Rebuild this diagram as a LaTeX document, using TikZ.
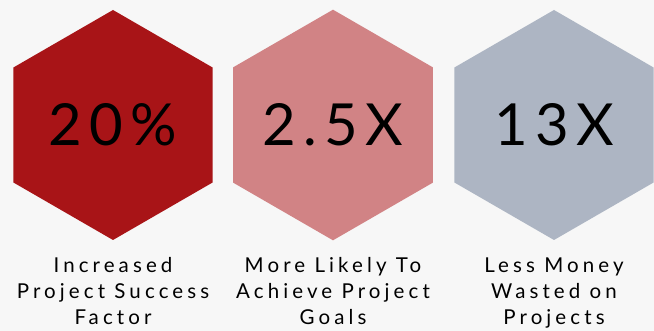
\documentclass[tikz,border=0pt]{standalone}
\usepackage{fontspec}
\setmainfont{Lato}[LetterSpace=20]
\newfontfamily\bigfont{Lato}[LetterSpace=13]
\usepackage{tikz}
\usetikzlibrary{positioning,shapes.geometric}
\definecolor{hexred}{HTML}{A81417}
\definecolor{hexpink}{HTML}{D18385}
\definecolor{hexgrey}{HTML}{ADB5C3}
\definecolor{pagebg}{HTML}{F7F7F7}
\newcommand{\hexnum}[1]{\raisebox{-5pt}{#1}}
\tikzset{hex node/.style={regular polygon,regular polygon sides=6,shape border rotate=30,
    minimum size=230pt,inner sep=0pt,draw=none,font=\bigfont\fontsize{58}{64}\selectfont},
  caption/.style={align=center,font=\fontsize{20.5}{26}\selectfont}}
\begin{document}
\begin{tikzpicture}[x=1pt,y=1pt, on grid]
      \fill[pagebg] (0,0) rectangle (654,331);
      \useasboundingbox (0,0) rectangle (654,331);
      \node[hex node,fill=hexred] (1) at (113,206) {\hexnum{20\%}};
      \node[hex node,fill=hexpink] (2) [right = 220pt of 1] {\hexnum{2.5X}};
      \node[hex node,fill=hexgrey] (3) [right = 221pt of 2] {\hexnum{13X}};
      % captions under the hexagons
      \node[caption] (c1) at (113,37.5) {\strut Increased\\Project Success\\Factor\strut};
      \node[caption] (c2) [right = 220pt of c1] {\strut More Likely To\\Achieve Project\\Goals\strut};
      \node[caption] (c3) [right = 221pt of c2] {\strut Less Money\\Wasted on\\Projects\strut};
    \end{tikzpicture}
\end{document}
